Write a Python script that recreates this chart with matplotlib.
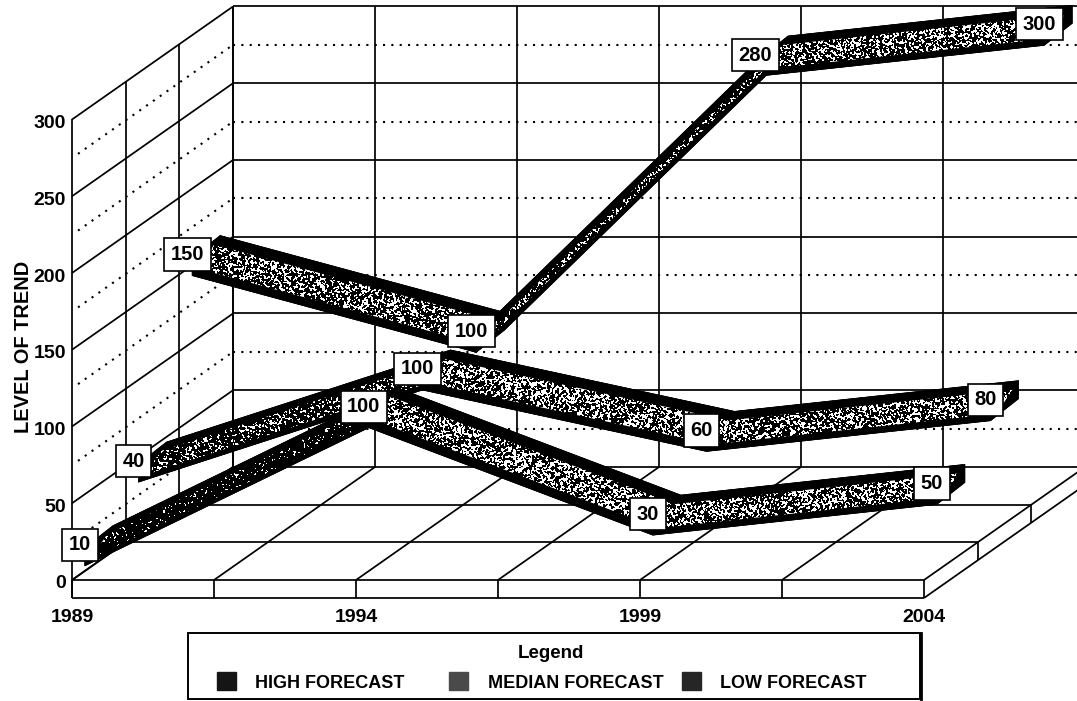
import numpy as np
import matplotlib
matplotlib.use('Agg')
import matplotlib.pyplot as plt
from matplotlib.patches import Polygon, Rectangle

plt.rcParams['font.family'] = ['Liberation Sans', 'DejaVu Sans']
plt.rcParams['font.weight'] = 'bold'

# Forecast data
years = [1989, 1994, 1999, 2004]
low_forecast = [10, 100, 30, 50]
median_forecast = [40, 100, 60, 80]
high_forecast = [150, 100, 280, 300]
value_ticks = [0, 50, 100, 150, 200, 250, 300]
legend_names = ['HIGH FORECAST', 'MEDIAN FORECAST', 'LOW FORECAST']
legend_colors = ['#151515', '#4a4a4a', '#262626']

# Scale of the axes and the slant of the depth direction
W, H = 1077, 701
PX_PER_YEAR = 56.8
PX_PER_VALUE = 1.535
X0, Y0 = 72, 580
DEPTH_CELLS = 3
CELL_DX, CELL_DY = 53.67, 37.67
FLOOR_THICK = 18


def project(year, value, depth=0.0):
    # depth is counted in floor cells, front edge = 0
    return (year + depth * CELL_DX / PX_PER_YEAR,
            value + depth * CELL_DY / PX_PER_VALUE)


def shift(point, dx_px, dy_px):
    return (point[0] + dx_px / PX_PER_YEAR, point[1] - dy_px / PX_PER_VALUE)


fig = plt.figure(figsize=(W / 100, H / 100), dpi=100)
ax = fig.add_axes([0, 0, 1, 1])
xlim = (1989 - X0 / PX_PER_YEAR, 1989 + (W - X0) / PX_PER_YEAR)
ylim = (-(H - Y0) / PX_PER_VALUE, Y0 / PX_PER_VALUE)
ax.set_axis_off()


def line(p, q, dotted=False, z=1):
    style = (0, (1, 3.0)) if dotted else '-'
    lw = 1.5 if dotted else 1.25
    ax.plot([p[0], q[0]], [p[1], q[1]], color='black', lw=lw, ls=style,
            zorder=z, solid_capstyle='butt')


year_grid = [years[0] + 2.5 * i for i in range(7)]

# walls: solid lines on the ticks, dotted lines half way between them
for v in value_ticks:
    line(project(years[0], v, 0), project(years[0], v, DEPTH_CELLS))
    line(project(years[0], v, DEPTH_CELLS), project(year_grid[-1], v, DEPTH_CELLS))
for v in value_ticks[:-1]:
    mid = v + 25
    line(shift(project(years[0], mid, 0), 6, -4), project(years[0], mid, DEPTH_CELLS), dotted=True)
    line(project(years[0], mid, DEPTH_CELLS), project(year_grid[-1], mid, DEPTH_CELLS), dotted=True)
for d in range(DEPTH_CELLS + 1):
    line(project(years[0], 0, d), project(years[0], 300, d))
for y in year_grid:
    line(project(y, 0, DEPTH_CELLS), project(y, 300, DEPTH_CELLS))

# floor and its raised edge
for d in range(DEPTH_CELLS):
    line(project(years[0], 0, d), project(years[-1], 0, d))
for y in year_grid:
    line(project(y, 0, 0), project(y, 0, DEPTH_CELLS))
    line(project(y, 0, 0), shift(project(y, 0, 0), 0, FLOOR_THICK))
for d in range(1, DEPTH_CELLS + 1):
    top = project(years[-1], 0, d)
    line(top, shift(top, 0, FLOOR_THICK))
base_l = shift(project(years[0], 0, 0), 0, FLOOR_THICK)
base_r = shift(project(years[-1], 0, 0), 0, FLOOR_THICK)
line(base_l, base_r)
line(base_r, shift(project(years[-1], 0, DEPTH_CELLS), 0, FLOOR_THICK))
line(project(years[0], 0, 0), base_l)

# stipple used on the ribbon faces
grain = np.random.default_rng(7).random((H, W))
grain = grain + np.roll(grain, 1, axis=0) + np.roll(grain, 1, axis=1) + np.roll(grain, (1, 1), axis=(0, 1))


def stipple(amount):
    return (grain > np.quantile(grain, 1 - amount)).astype(float)


def draw_ribbon(values, depth, amounts, z):
    pts = [project(y, v, depth) for y, v in zip(years, values)]
    bx, by, h = 14, 11, 9
    corners = [(bx, -by - h), (bx, -by + h), (-bx, by + h), (-bx, by - h)]
    for a, b in zip(pts[:-1], pts[1:]):
        for i in range(4):
            c, e = corners[i], corners[(i + 1) % 4]
            quad = [shift(a, *c), shift(a, *e), shift(b, *e), shift(b, *c)]
            ax.add_patch(Polygon(quad, fc='black', ec='black', lw=0.5, zorder=z))
    for p in (pts[0], pts[-1]):
        ax.add_patch(Polygon([shift(p, *c) for c in corners], fc='black', ec='black', lw=0.5, zorder=z))
    for a, b, amount in zip(pts[:-1], pts[1:], amounts):
        face = Polygon([shift(a, 8, -11), shift(b, 8, -11), shift(b, -8, 13), shift(a, -8, 13)],
                       transform=ax.transData, fc='none', ec='none')
        ax.add_patch(face)
        im = ax.imshow(stipple(amount), cmap='gray', vmin=0, vmax=1, aspect='auto',
                       extent=(xlim[0], xlim[1], ylim[0], ylim[1]), origin='upper',
                       interpolation='nearest', zorder=z + 0.5)
        im.set_clip_path(face)


# back to front
draw_ribbon(high_forecast, 2.5, [0.36, 0.28, 0.40], 10)
draw_ribbon(median_forecast, 1.5, [0.22, 0.40, 0.40], 20)
draw_ribbon(low_forecast, 0.5, [0.08, 0.42, 0.40], 30)

# value boxes sit just left of each point
for values, depth in [(high_forecast, 2.5), (median_forecast, 1.5), (low_forecast, 0.5)]:
    for y, v in zip(years, values):
        ax.annotate(str(v), xy=project(y, v, depth), xytext=(-19, 1), textcoords='offset pixels',
                    ha='center', va='center', fontsize=14.5, zorder=50,
                    bbox=dict(boxstyle='square,pad=0.33', fc='white', ec='black', lw=1.2))

# axis labels
for v in value_ticks:
    ax.annotate(str(v), xy=project(years[0], v, 0), xytext=(-6, -4), textcoords='offset pixels',
                ha='right', va='center', fontsize=14)
for y in years:
    ax.annotate(str(y), xy=project(y, 0, 0), xytext=(0, -37), textcoords='offset pixels',
                ha='center', va='center', fontsize=14)
ax.text(years[0] - 48 / PX_PER_YEAR, 152, 'LEVEL OF TREND', rotation=90, ha='center', va='center',
        fontsize=14.4)

# legend box, laid out in three equal columns
box_x, box_y, box_w, box_h = 188, 633, 732, 66
ax.add_patch(Rectangle((box_x / W, 1 - (box_y + box_h) / H), box_w / W, box_h / H, transform=ax.transAxes,
                       fc='white', ec='black', lw=1.4, zorder=60))
ax.plot([(box_x + box_w + 1) / W] * 2, [1 - (box_y + box_h) / H, 1 - box_y / H], transform=ax.transAxes,
        color='black', lw=2, zorder=61)
ax.text(551 / W, 1 - 653 / H, 'Legend', transform=ax.transAxes, ha='center', va='center',
        fontsize=13.5, zorder=61)
for name, color, swatch_x, text_x in zip(legend_names, legend_colors, [217, 449, 682], [255, 488, 720]):
    ax.add_patch(Rectangle((swatch_x / W, 1 - 690 / H), 19 / W, 18 / H, transform=ax.transAxes,
                           fc=color, ec=color, zorder=61))
    ax.text(text_x / W, 1 - 683 / H, name, transform=ax.transAxes, ha='left', va='center', fontsize=13, zorder=61)

ax.set_xlim(xlim)
ax.set_ylim(ylim)
fig.savefig('out.png', dpi=100, facecolor='white')
